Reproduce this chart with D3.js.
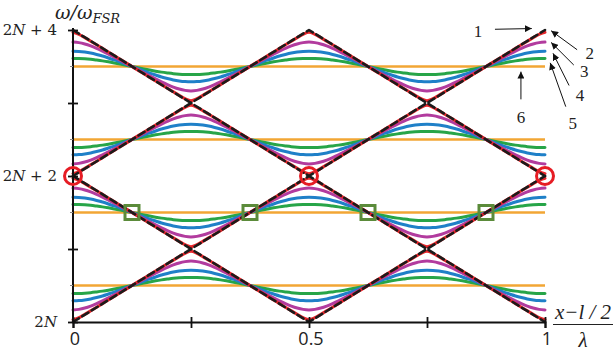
<!DOCTYPE html>
<html lang="en">
  <head>
    <meta charset="UTF-8" />
    <title>Band diagram</title>
    <script src="https://d3js.org/d3.v7.min.js"></script>
    <style>
      body {
        margin: 0;
        background: #fff;
      }
      .curve {
        fill: none;
        stroke-linecap: round;
        stroke-linejoin: round;
      }
      .axis path,
      .axis line {
        stroke: #111;
      }
    </style>
  </head>
  <body>
    <svg id="chart" width="614" height="356"></svg>

    <script>
      // x = (x - l/2) / lambda, y = omega/omega_FSR - 2N
      const xTicks = [0, 0.25, 0.5, 0.75, 1];
      const xTickLabels = ["0", "", "0.5", "", "1"];
      const yTicks = [0, 1, 2, 3, 4];
      const yTickLabels = ["2N", "", "2N + 2", "", "2N + 4"];

      // flat levels of curve 6 (orange)
      const bandLevels = [0.5, 1.5, 2.5, 3.5];
      const crossingX = [0, 0.25, 0.5, 0.75, 1];

      // distance from the node (0) to the crossing (0.5), and the
      // deviation of each curve from its flat level
      const profileP = [0, 0.05, 0.1, 0.15, 0.2, 0.25, 0.3, 0.35, 0.4, 0.45, 0.5];
      const gapRed = [0, 0.05, 0.099, 0.149, 0.199, 0.248, 0.298, 0.347, 0.395, 0.441, 0.468];
      const gapMagenta = [0, 0.043, 0.086, 0.129, 0.17, 0.21, 0.248, 0.282, 0.309, 0.327, 0.334];
      const gapBlue = [0, 0.031, 0.061, 0.09, 0.117, 0.143, 0.165, 0.184, 0.198, 0.207, 0.21];
      const gapGreen = [0, 0.017, 0.033, 0.049, 0.064, 0.077, 0.088, 0.098, 0.105, 0.109, 0.11];

      // curve 1: uncoupled lines (black dashed)
      const freeLines = [
        [[0, 4], [0.5, 2], [1, 4]],
        [[0, 2], [0.5, 4], [1, 2]],
        [[0, 2], [0.5, 0], [1, 2]],
        [[0, 0], [0.5, 2], [1, 0]],
      ];

      const circleMarks = [[0, 2], [0.5, 2], [1, 2]];
      const squareMarks = [[0.125, 1.5], [0.375, 1.5], [0.625, 1.5], [0.875, 1.5]];

      // label, text position, arrow start, arrow end (data units)
      const notes = [
        { t: "1", at: [0.858, 3.98], from: [0.894, 4.01], to: [0.972, 4.02] },
        { t: "2", at: [1.095, 3.69], from: [1.068, 3.73], to: [1.013, 3.99] },
        { t: "3", at: [1.083, 3.44], from: [1.061, 3.52], to: [1.013, 3.83] },
        { t: "4", at: [1.074, 3.11], from: [1.051, 3.24], to: [1.017, 3.68] },
        { t: "5", at: [1.059, 2.72], from: [1.044, 2.95], to: [1.011, 3.55] },
        { t: "6", at: [0.949, 2.81], from: [0.949, 3.05], to: [0.949, 3.43] },
      ];

      const svg = d3.select("#chart");
      const x = d3.scaleLinear().domain([0, 1]).range([73, 545]);
      const y = d3.scaleLinear().domain([0, 4]).range([322, 30]);

      function wavePoints(level, topAtZero, gap) {
        const pts = [];
        const n = profileP.length;
        for (let k = 0; k < crossingX.length - 1; k++) {
          const x0 = crossingX[k];
          const x1 = crossingX[k + 1];
          const xm = (x0 + x1) / 2;
          const s0 = (k % 2 === 0) === topAtZero ? 1 : -1;
          for (let i = n - 1; i >= 0; i--) {
            if (k > 0 && i === n - 1) continue;
            pts.push([x0 + ((0.5 - profileP[i]) * (xm - x0)) / 0.5, level + s0 * gap[i]]);
          }
          for (let i = 1; i < n; i++) {
            pts.push([xm + (profileP[i] * (x1 - xm)) / 0.5, level - s0 * gap[i]]);
          }
        }
        return pts;
      }

      const smooth = d3
        .line()
        .x((d) => x(d[0]))
        .y((d) => y(d[1]))
        .curve(d3.curveMonotoneX);
      const straight = d3
        .line()
        .x((d) => x(d[0]))
        .y((d) => y(d[1]));

      // Orange flat lines (6)
      svg
        .selectAll(".flat")
        .data(bandLevels)
        .join("line")
        .attr("x1", x(0))
        .attr("x2", x(1))
        .attr("y1", (d) => y(d))
        .attr("y2", (d) => y(d))
        .attr("stroke", "#f2a634")
        .attr("stroke-width", 2.6);

      const series = [
        { gap: gapGreen, color: "#27a548" },
        { gap: gapBlue, color: "#1f80c8" },
        { gap: gapMagenta, color: "#b23b9e" },
        { gap: gapRed, color: "#e8262b" },
      ];

      series.forEach((s) => {
        bandLevels.forEach((lv, j) => {
          svg
            .append("path")
            .attr("class", "curve")
            .attr("d", smooth(wavePoints(lv, j % 2 === 1, s.gap)))
            .attr("stroke", s.color)
            .attr("stroke-width", 3);
        });
      });

      // Dashed black lines (1)
      svg
        .selectAll(".free")
        .data(freeLines)
        .join("path")
        .attr("class", "curve")
        .attr("d", straight)
        .attr("stroke", "#1b1b1b")
        .attr("stroke-width", 2.6)
        .attr("stroke-linecap", "butt")
        .attr("stroke-dasharray", "7,4");

      // Axes
      const xAxis = svg
        .append("g")
        .attr("class", "axis")
        .attr("transform", `translate(0,${y(0)})`)
        .call(d3.axisBottom(x).tickValues(xTicks).tickFormat("").tickSizeOuter(0).tickSize(6));
      xAxis.select(".domain").attr("stroke-width", 2);
      xAxis.selectAll(".tick line").attr("y1", -5).attr("stroke-width", 1.8);

      const yAxis = svg
        .append("g")
        .attr("class", "axis")
        .attr("transform", `translate(${x(0)},0)`)
        .call(d3.axisLeft(y).tickValues(yTicks).tickFormat("").tickSizeOuter(0).tickSize(5));
      yAxis.select(".domain").attr("stroke-width", 2).attr("d", `M0,${y(0)}V${y(4) - 2}`);
      yAxis.selectAll(".tick line").attr("x1", 5).attr("stroke-width", 1.8);

      svg
        .selectAll(".half")
        .data(bandLevels)
        .join("line")
        .attr("x1", x(0) - 3)
        .attr("x2", x(0))
        .attr("y1", (d) => y(d))
        .attr("y2", (d) => y(d))
        .attr("stroke", "#888")
        .attr("stroke-width", 1);

      // x tick labels
      svg
        .selectAll(".xl")
        .data(xTicks)
        .join("text")
        .attr("x", (d) => x(d) + 2)
        .attr("y", y(0) + 23)
        .attr("text-anchor", "middle")
        .style("font-family", "'Open Sans', sans-serif")
        .style("font-size", "18px")
        .attr("fill", "#222")
        .text((d, i) => xTickLabels[i]);

      // y tick labels: "2N + k" with italic N
      yTicks.forEach((v, i) => {
        const lab = yTickLabels[i];
        if (!lab) return;
        const t = svg
          .append("text")
          .attr("x", 57)
          .attr("y", y(v) + 5)
          .attr("text-anchor", "end")
          .style("font-family", "'DejaVu Serif', serif")
          .style("font-size", "15px")
          .attr("fill", "#222");
        t.append("tspan").text(lab[0]);
        t.append("tspan").style("font-style", "italic").text(lab[1]);
        t.append("tspan").text(lab.slice(2));
      });

      // y title
      const yt = svg
        .append("text")
        .attr("x", 55)
        .attr("y", 19)
        .style("font-family", "'DejaVu Serif', serif")
        .style("font-style", "italic")
        .style("font-size", "19px")
        .attr("fill", "#222");
      yt.append("tspan").text("ω/ω");
      yt.append("tspan").attr("dy", 4).style("font-size", "13px").text("FSR");

      // x title as a fraction
      const fx = 583;
      svg
        .append("text")
        .attr("x", fx)
        .attr("y", 319)
        .attr("text-anchor", "middle")
        .style("font-family", "'Liberation Serif', serif")
        .style("font-style", "italic")
        .style("font-size", "21px")
        .attr("fill", "#222")
        .text("x−l / 2");
      svg
        .append("line")
        .attr("x1", 553)
        .attr("x2", 613)
        .attr("y1", 324.5)
        .attr("y2", 324.5)
        .attr("stroke", "#222")
        .attr("stroke-width", 1.2);
      svg
        .append("text")
        .attr("x", fx)
        .attr("y", 347)
        .attr("text-anchor", "middle")
        .style("font-family", "'Liberation Serif', serif")
        .style("font-style", "italic")
        .style("font-size", "21px")
        .attr("fill", "#222")
        .text("λ");

      // markers
      svg
        .selectAll(".ring")
        .data(circleMarks)
        .join("circle")
        .attr("cx", (d) => x(d[0]))
        .attr("cy", (d) => y(d[1]))
        .attr("r", 8.5)
        .attr("fill", "none")
        .attr("stroke", "#e61c24")
        .attr("stroke-width", 3);

      svg
        .selectAll(".box")
        .data(squareMarks)
        .join("rect")
        .attr("x", (d) => x(d[0]) - 7)
        .attr("y", (d) => y(d[1]) - 7)
        .attr("width", 14)
        .attr("height", 14)
        .attr("fill", "none")
        .attr("stroke", "#5b8b3a")
        .attr("stroke-width", 3);

      // annotation arrows
      svg
        .append("defs")
        .append("marker")
        .attr("id", "head")
        .attr("viewBox", "0 0 10 10")
        .attr("refX", 10)
        .attr("refY", 5)
        .attr("markerWidth", 7)
        .attr("markerHeight", 7)
        .attr("markerUnits", "userSpaceOnUse")
        .attr("orient", "auto")
        .append("path")
        .attr("d", "M0,0L10,5L0,10Z")
        .attr("fill", "#111");

      svg
        .selectAll(".arrow")
        .data(notes)
        .join("line")
        .attr("x1", (d) => x(d.from[0]))
        .attr("y1", (d) => y(d.from[1]))
        .attr("x2", (d) => x(d.to[0]))
        .attr("y2", (d) => y(d.to[1]))
        .attr("stroke", "#111")
        .attr("stroke-width", 1)
        .attr("marker-end", "url(#head)");

      svg
        .selectAll(".note")
        .data(notes)
        .join("text")
        .attr("x", (d) => x(d.at[0]))
        .attr("y", (d) => y(d.at[1]) + 6)
        .attr("text-anchor", "middle")
        .style("font-family", "'Liberation Serif', serif")
        .style("font-size", "17px")
        .attr("fill", "#222")
        .text((d) => d.t);
    </script>
  </body>
</html>
